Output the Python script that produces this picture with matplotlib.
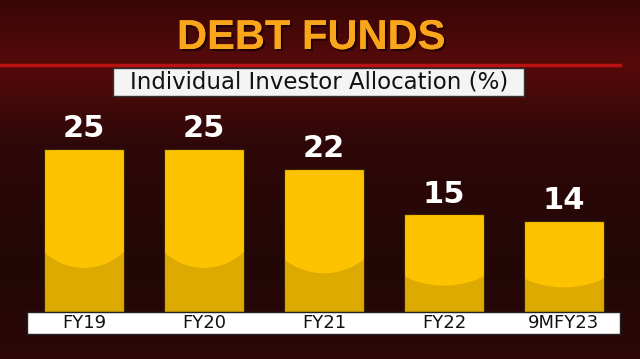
import numpy as np
import matplotlib
matplotlib.use("Agg")
import matplotlib.pyplot as plt
from matplotlib.patches import Rectangle, Ellipse
from matplotlib.colors import LinearSegmentedColormap
import matplotlib.patheffects as pe

# chart data
categories = ["FY19", "FY20", "FY21", "FY22", "9MFY23"]
allocation = [25, 25, 22, 15, 14]
title = "DEBT FUNDS"
subtitle = "Individual Investor Allocation (%)"

W, H = 640, 359
fig = plt.figure(figsize=(W / 100, H / 100), dpi=100)

def fx(px):
    return px / W

def fy(py):
    return 1 - py / H

# background gradient (dark red)
bg = fig.add_axes([0, 0, 1, 1], zorder=0)
bg.set_axis_off()
cmap = LinearSegmentedColormap.from_list(
    "bg", [(0, "#3a0606"), (0.18, "#560a0a"), (0.4, "#2e0808"), (0.75, "#230707"), (1, "#2c0808")])
grad = np.linspace(0, 1, 256).reshape(-1, 1)
bg.imshow(grad, aspect="auto", cmap=cmap, extent=[0, 1, 0, 1], origin="upper")
bg.set_xlim(0, 1)
bg.set_ylim(0, 1)

# red rule under the title
fig.add_artist(plt.Line2D([0, fx(620)], [fy(65), fy(65)], color="#b81212", lw=2.5, zorder=2))

fig.text(fx(311), fy(38), title, ha="center", va="center", fontsize=30,
         fontweight="bold", family="Liberation Sans", color="#f9a61a", zorder=5,
         path_effects=[pe.withSimplePatchShadow(offset=(1.5, -1.5), shadow_rgbFace="#1a0000", alpha=0.8),
                       pe.Normal()])

# subtitle box
fig.add_artist(Rectangle((fx(113), fy(96)), fx(524) - fx(113), fy(68) - fy(96),
                         transform=fig.transFigure, facecolor="#f4f4f4",
                         edgecolor="#333333", lw=1, zorder=3))
fig.text(fx(319), fy(82), subtitle, ha="center", va="center", fontsize=16.5,
         color="#111111", zorder=5)

# bar axes: value 0 at y=312px, 6.52 px per unit, bar pitch 120px starting at x=84px
ax = fig.add_axes([0, 0, 1, 1], zorder=4)
ax.set_axis_off()
ax.patch.set_alpha(0)
ax.set_xlim(-84 / 120, (W - 84) / 120)
ax.set_ylim(-(H - 312) / 6.52, 312 / 6.52)

x = np.arange(len(categories))
bars = ax.bar(x, allocation, width=0.667, color="#fec300", edgecolor="#3a2200", lw=0.8, zorder=3)

for b, v in zip(bars, allocation):
    cx = b.get_x() + b.get_width() / 2
    low = Rectangle((b.get_x(), 0), b.get_width(), 0.5 * v, facecolor="#dcaa00",
                    edgecolor="none", zorder=3.1)
    ax.add_patch(low)
    low.set_clip_path(b)
    gl = Ellipse((cx, 0.66 * v), 1.0, 0.78 * v, facecolor="#fec300", edgecolor="none", zorder=3.2)
    ax.add_patch(gl)
    gl.set_clip_path(b)
    ax.add_patch(Rectangle((b.get_x(), 0), b.get_width(), v, facecolor="none",
                           edgecolor="#3a2200", lw=0.8, zorder=3.3))
    ax.annotate(str(v), (cx, v), xytext=(0, 4), textcoords="offset points",
                ha="center", va="bottom", fontsize=22, fontweight="bold",
                color="white", zorder=5)

# white category strip
ax.add_patch(Rectangle((fx(27), fy(334)), fx(620) - fx(27), fy(312) - fy(334),
                       transform=fig.transFigure, facecolor="white",
                       edgecolor="#222222", lw=1, zorder=6, clip_on=False))
for xi, c in zip(x, categories):
    ax.text(xi, -(323 - 312) / 6.52, c, ha="center", va="center", fontsize=13,
            fontweight="medium", color="#111111", zorder=7)

fig.savefig("out.png", dpi=100)
